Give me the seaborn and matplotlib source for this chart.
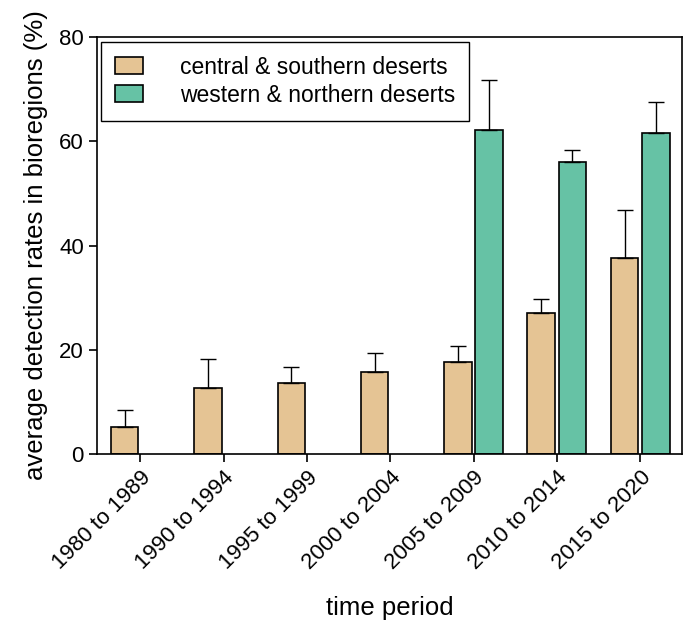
import numpy as np
import pandas as pd
import matplotlib.pyplot as plt
import seaborn as sns

# time periods and regions
periods = ['1980 to 1989', '1990 to 1994', '1995 to 1999', '2000 to 2004',
           '2005 to 2009', '2010 to 2014', '2015 to 2020']
regions = ['central & southern deserts', 'western & northern deserts']

# mean detection rates (%) and top of error bar
central_mean = [5.2, 12.7, 13.6, 15.7, 17.6, 27.0, 37.6]
central_top = [8.4, 18.2, 16.7, 19.4, 20.7, 29.7, 46.8]
western_mean = [np.nan, np.nan, np.nan, np.nan, 62.2, 56.0, 61.6]
western_top = [np.nan, np.nan, np.nan, np.nan, 71.8, 58.3, 67.5]

colors = ['#e5c494', '#66c2a5']

df = pd.DataFrame({
    'period': periods * 2,
    'region': [regions[0]] * len(periods) + [regions[1]] * len(periods),
    'rate': central_mean + western_mean,
})
err_top = {regions[0]: central_top, regions[1]: western_top}

sns.set_style('ticks')
plt.rcParams['font.family'] = ['Liberation Sans', 'DejaVu Sans']
plt.rcParams['text.color'] = 'black'
plt.rcParams['axes.labelcolor'] = 'black'

fig = plt.figure(figsize=(6.88, 6.28), dpi=100)
ax = fig.add_axes([0.141, 0.277, 0.85, 0.664])

sns.barplot(data=df, x='period', y='rate', hue='region', order=periods,
            hue_order=regions, palette=colors, saturation=1, width=0.75, gap=0.12,
            edgecolor='black', linewidth=1.2, errorbar=None, ax=ax)

#one sided error bars on top of each bar
for region, cont in zip(regions, ax.containers):
    for bar in cont:
        h = bar.get_height()
        if np.isnan(h) or h == 0:
            continue
        xc = bar.get_x() + bar.get_width() / 2
        i = int(round(xc))
        ax.errorbar(xc, h, yerr=[[0], [err_top[region][i] - h]], fmt='none',
                    ecolor='black', elinewidth=1, capsize=6, capthick=1, zorder=1)

ax.set_ylim(0, 80)
ax.set_yticks([0, 20, 40, 60, 80])
ax.set_xlim(-0.52, 6.5)
ax.set_xlabel('time period', fontsize=18.5, labelpad=16, color='black')
ax.set_ylabel('average detection rates in bioregions (%)', fontsize=18.5, labelpad=8, color='black')
ax.tick_params(axis='both', labelsize=16, direction='out', length=6, width=1.2, colors='black')
plt.setp(ax.get_xticklabels(), rotation=45, ha='right', rotation_mode='anchor')
for s in ax.spines.values():
    s.set_visible(True)
    s.set_linewidth(1.2)
    s.set_color('black')

leg = ax.legend(loc='upper left', fontsize=16.5, frameon=True, fancybox=False,
                edgecolor='black', framealpha=1, handlelength=1.25, handleheight=0.75,
                handletextpad=1.6, labelspacing=0.22, borderpad=0.6,
                borderaxespad=0, bbox_to_anchor=(0.007, 0.988), labelcolor='black')
leg.get_frame().set_linewidth(1)

plt.savefig('out.png', dpi=100)
